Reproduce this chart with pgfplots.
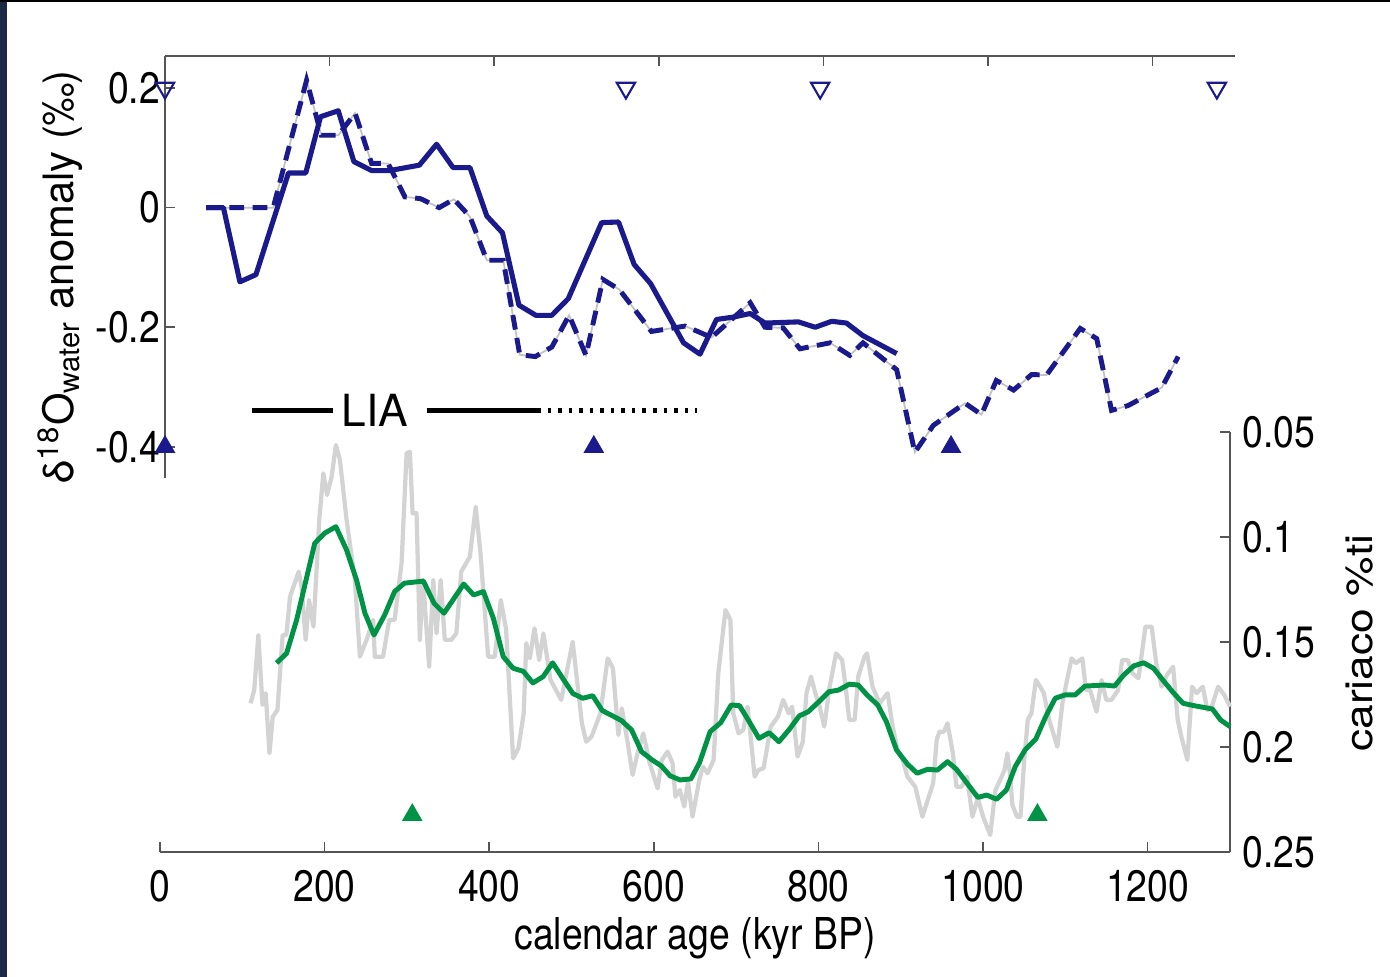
\documentclass[border=0pt]{standalone}
\usepackage{fontspec}
\setmainfont{TeX Gyre Heros}[FakeStretch=0.85]
\newfontfamily\herosn{TeX Gyre Heros}
\newfontfamily\herosw{TeX Gyre Heros}[FakeStretch=1.18]
\usepackage{pgfplots}
\pgfplotsset{compat=1.18}
\definecolor{navy}{RGB}{26,26,140}
\definecolor{grn}{RGB}{0,146,69}
\definecolor{ltgray}{RGB}{211,211,211}
\definecolor{axgray}{RGB}{85,85,85}
\definecolor{edge}{RGB}{28,42,70}

\begin{document}
\begin{tikzpicture}[font=\fontsize{12.5}{15}\selectfont]
\path[use as bounding box] (0,0) rectangle (139mm,97.7mm);
\fill[edge] (0,0) rectangle (0.7mm,97.7mm);
\fill[black] (0,97.45mm) rectangle (139mm,97.7mm);

\pgfplotsset{
  every non boxed x axis/.append style={x axis line style={-}, xtick align=inside},
  every non boxed y axis/.append style={y axis line style={-}, ytick align=inside},
  every axis/.append style={scale only axis, width=107mm,
  xmin=0, xmax=1300, xtick={0,200,...,1200}, clip=false,
  tick align=inside, major tick length=1mm,
  axis line style={draw=axgray, line width=0.6pt},
  tick style={draw=axgray, line width=0.45pt},
  /pgf/number format/assume math mode=true}}

% delta18O water anomaly
\begin{axis}[at={(16.5mm,49.9mm)}, anchor=south west, height=42.2mm,
  ymin=-0.452, ymax=0.2536, axis x line=top, axis y line=left,
  xticklabels={}, ytick={-0.4,-0.2,0,0.2}, yticklabels={-0.4,-0.2,0,0.2},
  yticklabel style={xshift=0.75mm},
  ylabel={δ\textsuperscript{18}O\textsubscript{water} anomaly (‰)},
  ylabel style={at={(axis description cs:-0.098,0.477)}, anchor=center,
    font=\herosn\fontsize{11.9}{14}\selectfont}]
\addplot[ltgray!80!gray, line width=0.5pt] coordinates {
(50,0) (131.5,0) (172,0.213) (190,0.121) (210.5,0.121) (231,0.158) (251,0.074)
(271,0.074) (291.5,0.018) (310.5,0.015) (333,0.0) (351,0.014) (370.5,-0.015)
(391,-0.088) (411,-0.088) (431,-0.246) (450,-0.249) (470,-0.233) (491,-0.18)
(511.5,-0.247) (532,-0.120) (552,-0.137) (591,-0.207) (632,-0.198) (664,-0.217)
(711,-0.159) (729,-0.2) (751,-0.201) (771.5,-0.236) (808,-0.226) (832,-0.247)
(848,-0.226) (889,-0.271) (911,-0.409) (933.5,-0.364) (972,-0.327) (992,-0.346)
(1010,-0.289) (1031,-0.305) (1053,-0.279) (1071,-0.280) (1112,-0.202) (1132,-0.219)
(1150,-0.339) (1170,-0.331) (1211,-0.301) (1231,-0.249)};
\addplot[navy, line width=1.4pt, dash pattern=on 4.2pt off 2.4pt] coordinates {
(50,0) (131.5,0) (172,0.213) (190,0.121) (210.5,0.121) (231,0.158) (251,0.074)
(271,0.074) (291.5,0.018) (310.5,0.015) (333,0.0) (351,0.014) (370.5,-0.015)
(391,-0.088) (411,-0.088) (431,-0.246) (450,-0.249) (470,-0.233) (491,-0.18)
(511.5,-0.247) (532,-0.120) (552,-0.137) (591,-0.207) (632,-0.198) (664,-0.217)
(711,-0.159) (729,-0.2) (751,-0.201) (771.5,-0.236) (808,-0.226) (832,-0.247)
(848,-0.226) (889,-0.271) (911,-0.409) (933.5,-0.364) (972,-0.327) (992,-0.346)
(1010,-0.289) (1031,-0.305) (1053,-0.279) (1071,-0.280) (1112,-0.202) (1132,-0.219)
(1150,-0.339) (1170,-0.331) (1211,-0.301) (1231,-0.249)};
\addplot[navy, line width=1.45pt, line join=round] coordinates {
(50,0) (71,0) (91,-0.124) (110.5,-0.112) (150,0.058) (171,0.058) (189,0.152)
(210.5,0.162) (229.5,0.077) (251,0.062) (273,0.062) (309,0.071) (330,0.106)
(350,0.067) (370.5,0.067) (391,-0.014) (410,-0.042) (430,-0.163) (450.5,-0.18)
(470,-0.18) (490,-0.152) (530.5,-0.025) (551,-0.024) (570,-0.095) (590,-0.127)
(630,-0.226) (650,-0.245) (670,-0.187) (690.5,-0.183) (711,-0.177) (729,-0.193)
(769.5,-0.191) (790,-0.2) (810,-0.19) (828,-0.193) (848,-0.214) (889,-0.244)};
\addplot[only marks, mark=triangle, mark size=3pt,
  mark options={rotate=180, draw=navy, line width=0.6pt, fill=white}]
  coordinates {(0,0.2) (560,0.2) (796,0.2) (1278,0.2)};
\addplot[only marks, mark=triangle*, mark size=3pt, navy]
  coordinates {(0,-0.4) (521,-0.4) (955,-0.4)};
\draw[black, line width=1.2pt] (axis cs:105.7,-0.339) -- (axis cs:204,-0.339);
\node at (axis cs:255,-0.339) {\herosn\fontsize{12.6}{15}\selectfont LIA};
\draw[black, line width=1.2pt] (axis cs:318,-0.339) -- (axis cs:452,-0.339);
\draw[black, line width=1.2pt, dash pattern=on 1pt off 2pt]
  (axis cs:452,-0.339) -- (axis cs:646,-0.339);
\end{axis}

% Cariaco titanium
\begin{axis}[at={(16mm,12.5mm)}, anchor=south west, height=42mm,
  ymin=0.05, ymax=0.25, y dir=reverse, axis x line=bottom, axis y line=right,
  xticklabels={0,200,400,600,800,1000,1200},
  ytick={0.05,0.1,0.15,0.2,0.25}, yticklabels={0.05,0.1,0.15,0.2,0.25},
  xticklabel style={yshift=-0.6mm}, yticklabel style={xshift=0mm},
  xlabel={calendar age (kyr BP)}, ylabel={cariaco \%ti},
  xlabel style={at={(axis description cs:0.5,-0.205)}, anchor=center},
  ylabel style={at={(axis description cs:1.1215,0.497)}, anchor=center,
    font=\herosw\fontsize{10.7}{13}\selectfont}]
\addplot[ltgray, line width=1.2pt, line join=round] table {
110 0.1792
114.5 0.1729
119.5 0.1467
124.5 0.1800
128.4 0.1744
133 0.2030
137 0.1856
142.7 0.1824
149 0.1467
153.5 0.1467
158 0.1284
168.5 0.1165
172 0.1237
177 0.1490
181 0.1300
186.5 0.1427
193.5 0.0919
198.4 0.0697
203 0.0800
208.5 0.0713
213.7 0.0562
218.6 0.0633
226.7 0.0919
236.8 0.1205
242.9 0.1570
251 0.1490
259 0.1395
261 0.1570
271 0.1570
278.5 0.1395
285 0.1395
293.5 0.1125
299.6 0.0601
303.6 0.0594
306.9 0.0887
311.7 0.0887
315.7 0.1490
319.7 0.1205
327 0.1618
332 0.1205
336 0.1459
341 0.1205
346 0.1490
354 0.1490
360 0.1459
366 0.1165
376.5 0.1094
383.6 0.0856
389.4 0.1078
398.7 0.1570
406.8 0.1570
414 0.1300
420.5 0.1440
429 0.2054
435.4 0.2006
441.9 0.1840
445 0.1506
449.3 0.1578
455 0.1435
460.7 0.1586
465.8 0.1459
474.4 0.1680
487.5 0.1776
501.4 0.1499
512.6 0.1887
517.8 0.1975
524.3 0.1951
535 0.1840
543.9 0.1578
550.3 0.1625
556.9 0.1943
561 0.1816
567.7 0.1967
574.2 0.2133
580.7 0.2022
587.2 0.1935
595 0.2078
604.6 0.2197
609.7 0.2062
616.7 0.2022
622.8 0.2078
626.2 0.2237
631.5 0.2205
637 0.2284
641.4 0.2165
647 0.2332
655.2 0.2157
659.6 0.2094
665.3 0.2125
672.6 0.2062
678.3 0.1649
687 0.1348
693 0.1395
696.5 0.1840
703 0.1935
708.7 0.1919
713.9 0.1808
722.5 0.2141
726.9 0.2110
733.3 0.2101
742 0.1903
750.7 0.1856
757.2 0.1776
763.8 0.1840
768 0.1808
774.6 0.2046
781 0.1975
785.4 0.1744
791 0.1665
796.2 0.1744
801.5 0.1808
807 0.1903
813.6 0.1713
821.4 0.1554
828.8 0.1586
833 0.1713
837.4 0.1871
844 0.1871
848.3 0.1665
856 0.1570
859 0.1554
865.7 0.1713
874.3 0.1792
884 0.1744
889.5 0.1887
896 0.2014
902.4 0.2062
908 0.2141
917.6 0.2189
926.3 0.2332
932.8 0.2252
939.4 0.2173
943.6 0.1967
947 0.1927
952.4 0.1927
956.8 0.1887
963.3 0.2030
967.6 0.2189
974 0.2189
980.6 0.2141
987 0.2332
993.6 0.2244
1000 0.2332
1008.7 0.2419
1015 0.2205
1020.8 0.2157
1026 0.2110
1029.5 0.2030
1032.6 0.2125
1035.6 0.2276
1041.3 0.2332
1045.5 0.2332
1050 0.2062
1054.3 0.1871
1058.7 0.1840
1064.2 0.1681
1069.4 0.1713
1073.8 0.1744
1080.3 0.1871
1090.3 0.1999
1096.4 0.1792
1102 0.1681
1107.6 0.1578
1112.8 0.1601
1120.6 0.1578
1125 0.1729
1130 0.1729
1137.9 0.1832
1144 0.1681
1149.7 0.1776
1156 0.1776
1164 0.1729
1169 0.1586
1175.7 0.1586
1181.5 0.1649
1188.8 0.1673
1197.3 0.1427
1204.8 0.1427
1210.4 0.1601
1216.9 0.1713
1223.4 0.1657
1230.9 0.1618
1236.5 0.1871
1240.9 0.1951
1248.2 0.2062
1253.9 0.1713
1259.5 0.1744
1266.9 0.1713
1272.6 0.1824
1277.8 0.1808
1285.6 0.1713
1293 0.1752
1300 0.1808
};
\addplot[grn, line width=1.4pt, line join=round] table {
141.7 0.160
153.8 0.1554
166 0.1395
188 0.103
200 0.0982
213.7 0.0951
226.7 0.1062
238.8 0.1205
249 0.1363
260 0.1467
273 0.1371
285 0.126
297 0.122
320 0.121
333 0.1316
345 0.1363
369 0.1224
381 0.1276
393 0.126
405 0.1387
417 0.157
429 0.1625
441.5 0.164
453 0.1695
465.5 0.1665
477 0.1599
489.6 0.1675
501.5 0.1745
513.5 0.1768
525.7 0.1756
537.4 0.1827
548 0.1848
561 0.1875
573 0.1919
585 0.2022
598 0.2062
609 0.209
620 0.2138
632 0.2157
645 0.2152
655.5 0.2075
668.4 0.1927
681.3 0.1884
694 0.180
704 0.1803
716 0.1880
727.7 0.1959
740 0.1932
752 0.1975
764 0.1919
776.7 0.1852
787.6 0.1832
800.6 0.1784
812.7 0.1737
824.5 0.1729
837.4 0.1701
848.3 0.1705
859 0.1752
872 0.180
882.6 0.188
894.8 0.2014
908 0.2081
919.8 0.2125
932.8 0.2106
944.5 0.211
956.8 0.207
967.6 0.2106
980.6 0.2173
993.6 0.224
1004.4 0.2229
1016.5 0.2249
1028.3 0.2205
1039 0.2094
1051 0.2014
1064 0.1963
1076 0.1856
1087.7 0.1768
1099.8 0.1752
1112 0.1752
1123.7 0.1710
1147.5 0.1705
1159.7 0.1710
1171 0.1657
1183 0.1614
1195 0.1599
1207 0.1625
1219 0.1684
1231 0.1741
1243 0.1792
1256 0.1803
1278.6 0.1819
1288.5 0.1871
1300 0.1903
};
\addplot[only marks, mark=triangle*, mark size=3pt, grn]
  coordinates {(306.5,0.2324) (1066,0.2324)};
\end{axis}
\end{tikzpicture}
\end{document}
